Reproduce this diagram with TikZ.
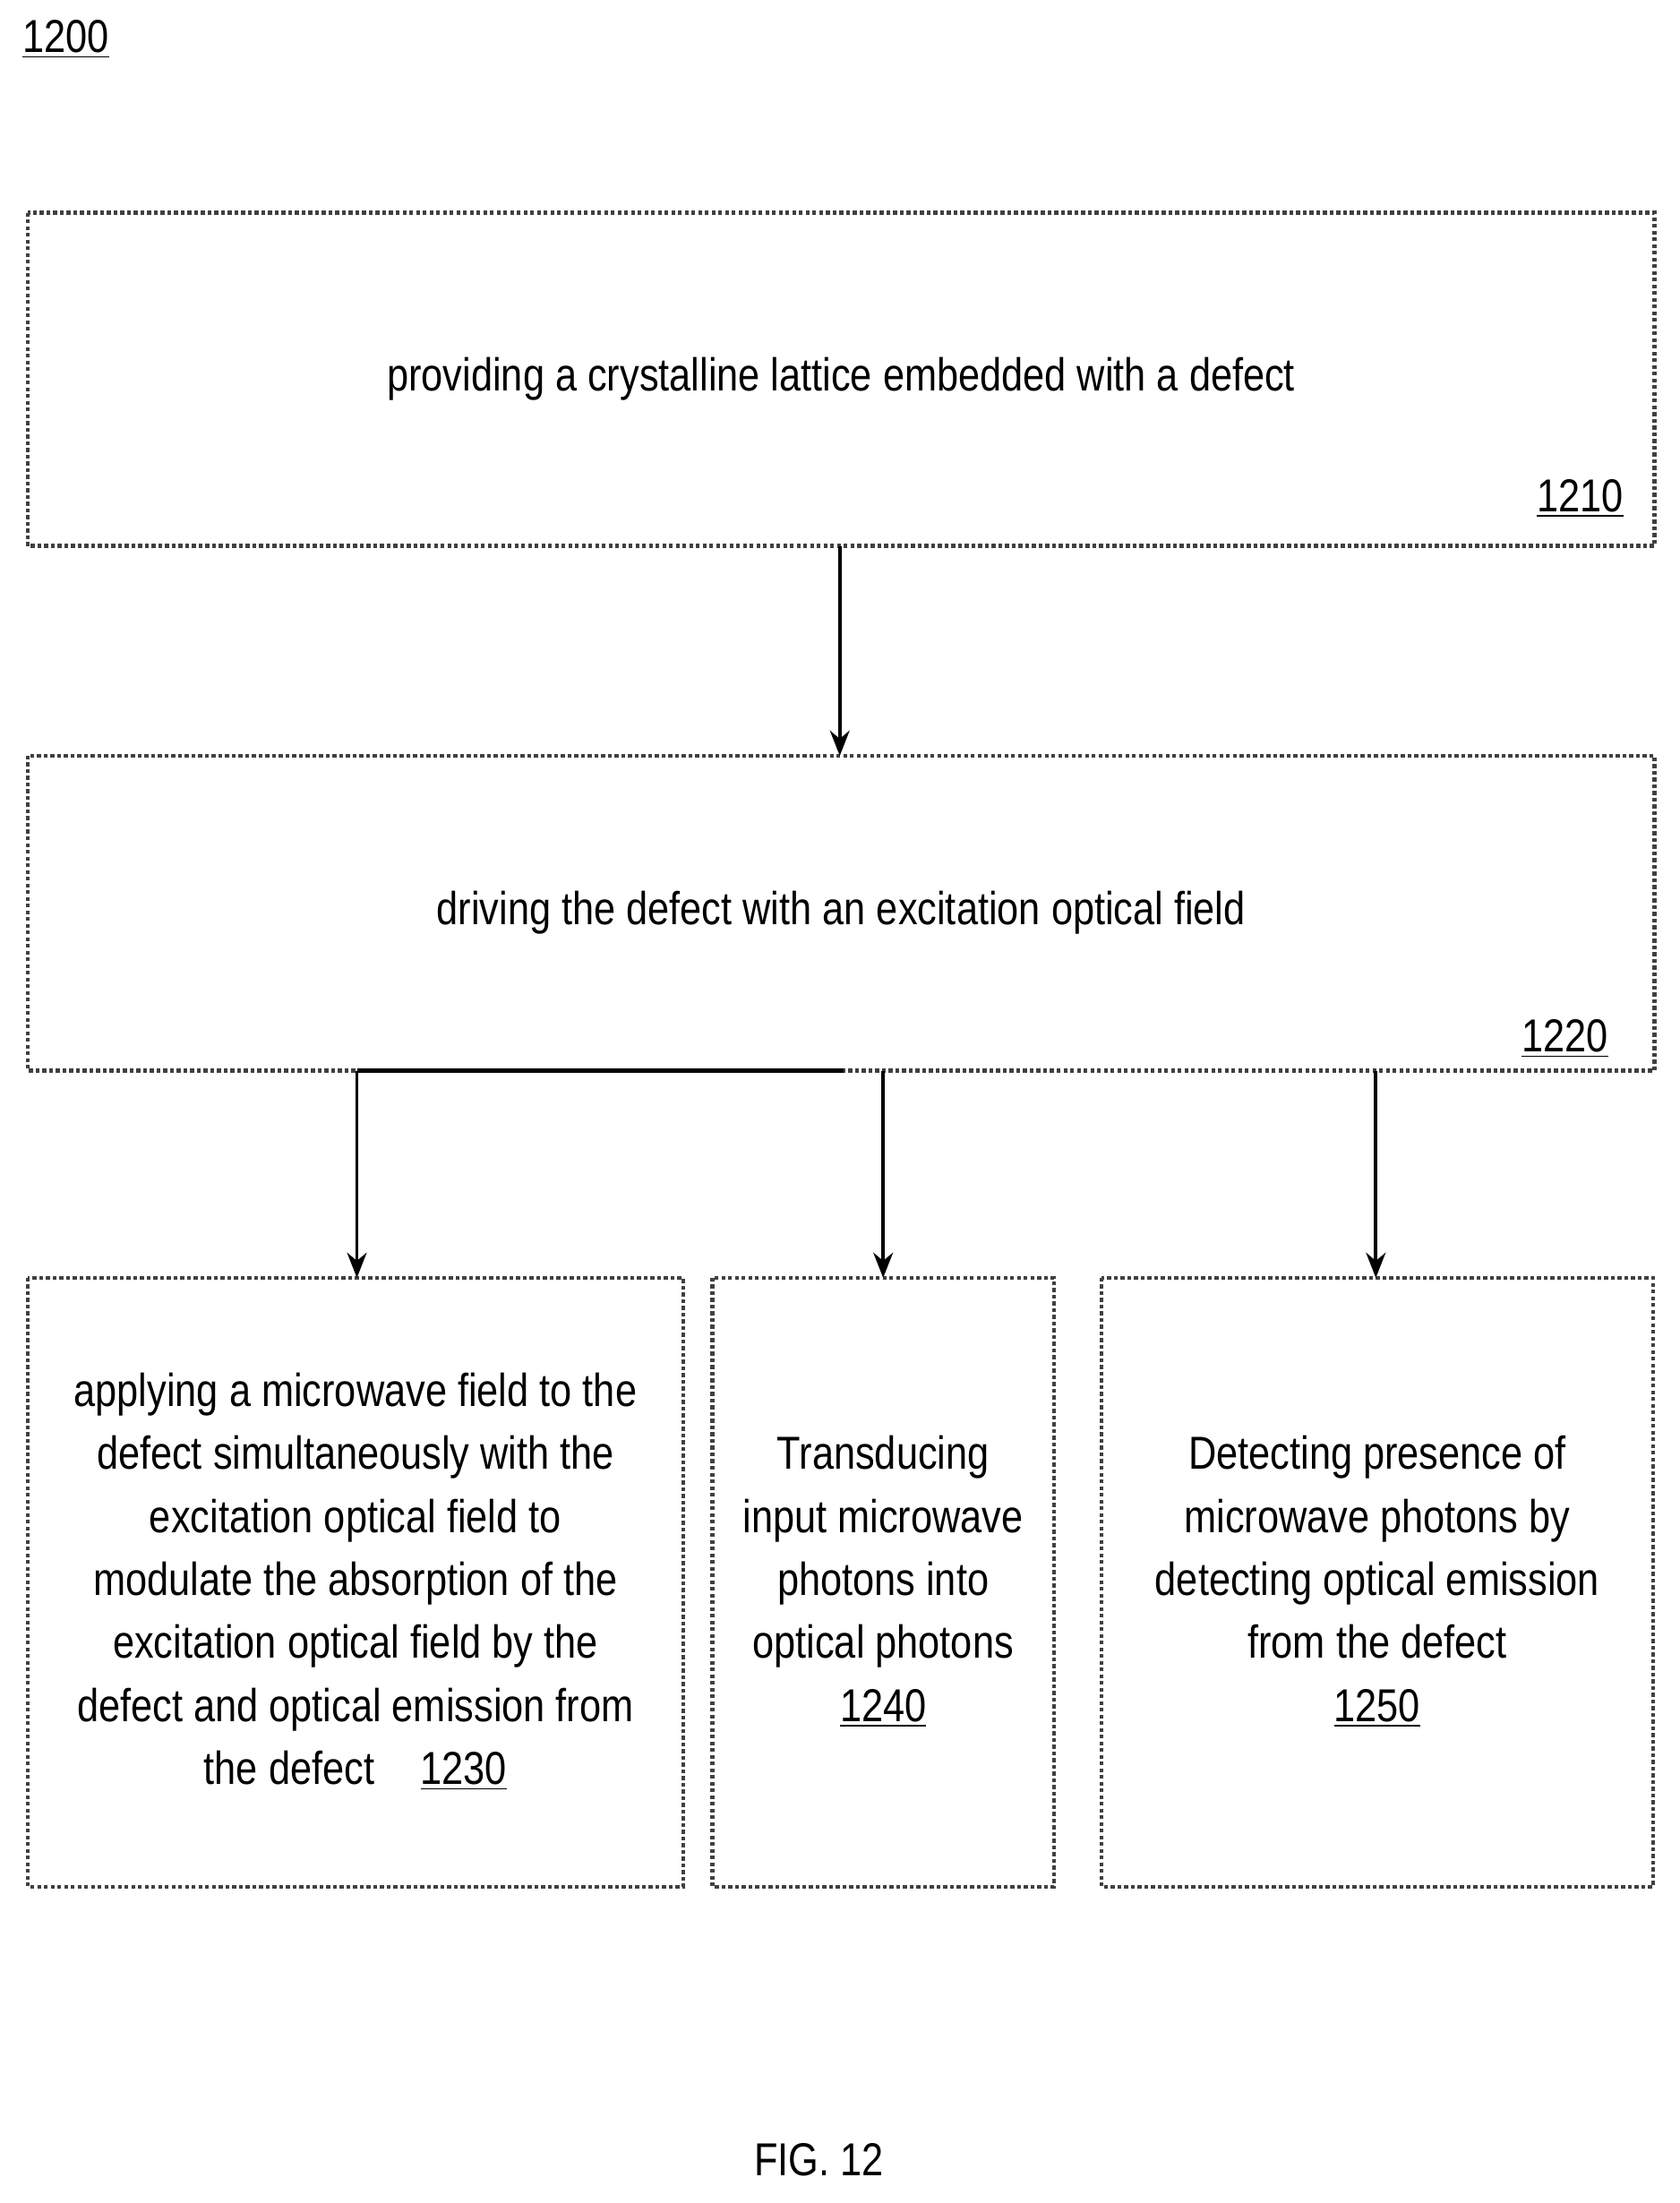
\documentclass[tikz,border=0pt]{standalone}
\usepackage{fontspec}
\setmainfont[FakeStretch=0.84]{Liberation Sans}
\usetikzlibrary{arrows.meta}
\begin{document}
\begin{tikzpicture}[x=0.5pt,y=-0.5pt,
 box/.style={draw=black!75,line width=1.4pt,densely dotted},
 txt/.style={font=\fontsize{16.5}{22.5}\selectfont,align=center},
 arr/.style={line width=1.2pt,-{Stealth[length=9pt,width=7pt]}}]
\useasboundingbox (0,0) rectangle (1200,1574);
\node[font=\fontsize{16.5}{20}\selectfont] (n1200) at (47,28) {\underline{1200}};
\draw[box] (20,152) rectangle (1182,390);
\draw[box] (20,540) rectangle (1182,765);
\draw[box] (20,913) rectangle (488,1348);
\draw[box] (509,913) rectangle (753,1348);
\draw[box] (787,913) rectangle (1181,1348);
\coordinate (b1) at (600,390); \coordinate (b2t) at (600,540);
\node[txt] (t1) at (601,271) {providing a crystalline lattice embedded with a defect};
\node[txt] (l1) at (1129,356) {\underline{1210}};
\node[txt] (t2) at (601,652) {driving the defect with an excitation optical field};
\node[txt] (l2) at (1118,742) {\underline{1220}};
\node[txt] (t3) at (254,1130) {applying a microwave field to the\\defect simultaneously with the\\excitation optical field to\\modulate the absorption of the\\excitation optical field by the\\defect and optical emission from\\the defect\quad\underline{1230}};
\node[txt] (t4) at (631,1130) {Transducing\\input microwave\\photons into\\optical photons\\\underline{1240}};
\node[txt] (t5) at (984,1130) {Detecting presence of\\microwave photons by\\detecting optical emission\\from the defect\\\underline{1250}};
\node[font=\fontsize{16.5}{20}\selectfont] (fig) at (585,1543) {FIG. 12};
\draw[arr] (b1) -- (b2t);
\coordinate (h1) at (255,765); \coordinate (h2) at (603,765);
\coordinate (h3) at (631,765); \coordinate (h4) at (983,765);
\draw[line width=1.4pt] (h1) -- (h2);
\draw[arr] (h1) -- (255,913);
\draw[arr] (h3) -- (631,913);
\draw[arr] (h4) -- (983,913);
\end{tikzpicture}
\end{document}
